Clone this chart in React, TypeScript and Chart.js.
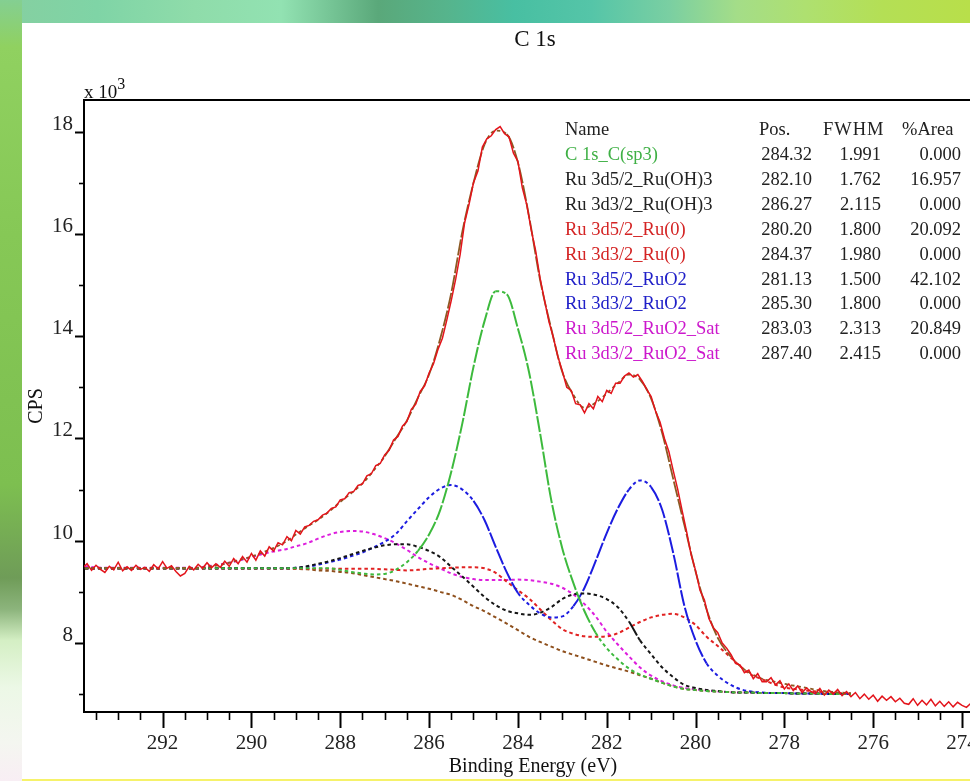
import React, { useEffect, useRef } from 'react';
import { Chart, registerables } from 'chart.js';

Chart.register(...registerables);

const SERIF = '"Liberation Serif", "Times New Roman", serif';

// ---------- axis ticks / ranges ----------
const X_TICKS = [292, 290, 288, 286, 284, 282, 280, 278, 276, 274];
const Y_TICKS = [8, 10, 12, 14, 16, 18];
const X_MIN = 273.55;
const X_MAX = 293.77;
const Y_MIN = 6.65;
const Y_MAX = 18.62;

// ---------- raw spectrum (binding energy, CPS x 10^3) ----------
const RAW_BE = [
  293.8, 293.7, 293.6, 293.5, 293.4, 293.3, 293.2, 293.1, 293.0, 292.9,
  292.8, 292.7, 292.6, 292.5, 292.4, 292.3, 292.2, 292.1, 292.0, 291.9,
  291.8, 291.7, 291.6, 291.5, 291.4, 291.3, 291.2, 291.1, 291.0, 290.9,
  290.8, 290.7, 290.6, 290.5, 290.4, 290.3, 290.2, 290.1, 290.0, 289.9,
  289.8, 289.7, 289.6, 289.5, 289.4, 289.3, 289.2, 289.1, 289.0, 288.9,
  288.8, 288.7, 288.6, 288.5, 288.4, 288.3, 288.2, 288.1, 288.0, 287.9,
  287.8, 287.7, 287.6, 287.5, 287.4, 287.3, 287.2, 287.1, 287.0, 286.9,
  286.8, 286.7, 286.6, 286.5, 286.4, 286.3, 286.2, 286.1, 286.0, 285.9,
  285.8, 285.7, 285.6, 285.5, 285.4, 285.3, 285.2, 285.1, 285.0, 284.9,
  284.8, 284.7, 284.6, 284.5, 284.4, 284.3, 284.2, 284.1, 284.0, 283.9,
  283.8, 283.7, 283.6, 283.5, 283.4, 283.3, 283.2, 283.1, 283.0, 282.9,
  282.8, 282.7, 282.6, 282.5, 282.4, 282.3, 282.2, 282.1, 282.0, 281.9,
  281.8, 281.7, 281.6, 281.5, 281.4, 281.3, 281.2, 281.1, 281.0, 280.9,
  280.8, 280.7, 280.6, 280.5, 280.4, 280.3, 280.2, 280.1, 280.0, 279.9,
  279.8, 279.7, 279.6, 279.5, 279.4, 279.3, 279.2, 279.1, 279.0, 278.9,
  278.8, 278.7, 278.6, 278.5, 278.4, 278.3, 278.2, 278.1, 278.0, 277.9,
  277.8, 277.7, 277.6, 277.5, 277.4, 277.3, 277.2, 277.1, 277.0, 276.9,
  276.8, 276.7, 276.6, 276.5, 276.4, 276.3, 276.2, 276.1, 276.0, 275.9,
  275.8, 275.7, 275.6, 275.5, 275.4, 275.3, 275.2, 275.1, 275.0, 274.9,
  274.8, 274.7, 274.6, 274.5, 274.4, 274.3, 274.2, 274.1, 274.0, 273.9,
  273.8,
];
const RAW_CPS = [
  9.47, 9.55, 9.42, 9.52, 9.44, 9.38, 9.50, 9.43, 9.58, 9.41,
  9.49, 9.42, 9.52, 9.44, 9.48, 9.40, 9.53, 9.45, 9.59, 9.46,
  9.51, 9.40, 9.31, 9.36, 9.50, 9.43, 9.54, 9.46, 9.57, 9.47,
  9.55, 9.48, 9.60, 9.50, 9.65, 9.55, 9.69, 9.58, 9.75, 9.62,
  9.80, 9.70, 9.88, 9.80, 9.96, 9.92, 10.08, 10.00, 10.20, 10.13,
  10.27, 10.30, 10.38, 10.41, 10.50, 10.54, 10.63, 10.66, 10.80, 10.82,
  10.94, 10.96, 11.08, 11.11, 11.27, 11.31, 11.47, 11.51, 11.68, 11.77,
  11.97, 12.04, 12.24, 12.33, 12.57, 12.67, 12.92, 13.03, 13.28, 13.46,
  13.74, 13.96, 14.32, 14.70, 15.12, 15.60, 16.22, 16.58, 17.00, 17.23,
  17.70, 17.86, 17.92, 18.04, 18.10, 17.96, 17.90, 17.58, 17.42, 16.90,
  16.57, 16.08, 15.67, 15.13, 14.70, 14.28, 13.97, 13.60, 13.32, 13.00,
  12.94, 12.68, 12.66, 12.50, 12.68, 12.58, 12.82, 12.72, 12.94, 12.88,
  13.08, 13.08, 13.22, 13.28, 13.20, 13.25, 13.12, 12.96, 12.82, 12.53,
  12.32, 12.00, 11.74, 11.36, 11.00, 10.58, 10.17, 9.73, 9.42, 9.03,
  8.84, 8.48, 8.30, 8.20, 8.00, 7.90, 7.77, 7.60, 7.57, 7.42,
  7.47, 7.30, 7.40, 7.24, 7.24, 7.32, 7.18, 7.26, 7.10, 7.20,
  7.07, 7.16, 7.03, 7.12, 7.05, 7.01, 7.11, 6.98, 7.08, 7.00,
  7.09, 6.97, 7.05, 6.95, 7.03, 6.91, 7.00, 6.90, 6.98, 6.86,
  6.96, 6.88, 6.95, 6.85, 6.92, 6.82, 6.80, 6.91, 6.78, 6.88,
  6.79, 6.90, 6.77, 6.86, 6.76, 6.85, 6.75, 6.84, 6.78, 6.74,
  6.82,
];

// ---------- fitted components (binding energy grid, CPS x 10^3) ----------
const COMP_BE = [
  293.75, 293.5, 293.25, 293.0, 292.75, 292.5, 292.25, 292.0, 291.75, 291.5,
  291.25, 291.0, 290.75, 290.5, 290.25, 290.0, 289.75, 289.5, 289.25, 289.0,
  288.75, 288.5, 288.25, 288.0, 287.75, 287.5, 287.25, 287.0, 286.75, 286.5,
  286.25, 286.0, 285.75, 285.5, 285.25, 285.0, 284.75, 284.5, 284.25, 284.0,
  283.75, 283.5, 283.25, 283.0, 282.75, 282.5, 282.25, 282.0, 281.75, 281.5,
  281.25, 281.0, 280.75, 280.5, 280.25, 280.0, 279.75, 279.5, 279.25, 279.0,
  278.75, 278.5, 278.25, 278.0, 277.75, 277.5, 277.25, 277.0, 276.75, 276.5,
];
const ENVELOPE = [
  9.47, 9.47, 9.47, 9.47, 9.47, 9.47, 9.47, 9.47, 9.47, 9.47,
  9.47, 9.49, 9.52, 9.57, 9.63, 9.69, 9.77, 9.86, 9.97, 10.12,
  10.27, 10.41, 10.57, 10.76, 10.93, 11.12, 11.37, 11.65, 12.00, 12.35,
  12.80, 13.25, 13.95, 14.85, 16.05, 17.00, 17.75, 18.02, 17.95, 17.40,
  16.35, 15.10, 14.15, 13.30, 12.85, 12.60, 12.70, 12.88, 13.08, 13.25,
  13.15, 12.78, 12.10, 11.20, 10.30, 9.40, 8.65, 8.10, 7.78, 7.55,
  7.40, 7.30, 7.25, 7.20, 7.16, 7.12, 7.08, 7.05, 7.03, 7.02,
];
const BACKGROUND = [
  9.46, 9.46, 9.46, 9.46, 9.46, 9.46, 9.46, 9.46, 9.46, 9.46,
  9.46, 9.46, 9.46, 9.46, 9.46, 9.46, 9.46, 9.46, 9.46, 9.45,
  9.44, 9.42, 9.41, 9.39, 9.37, 9.33, 9.29, 9.25, 9.21, 9.16,
  9.11, 9.06, 9.00, 8.94, 8.84, 8.72, 8.62, 8.50, 8.38, 8.25,
  8.12, 8.02, 7.93, 7.84, 7.77, 7.70, 7.63, 7.56, 7.50, 7.44,
  7.37, 7.30, 7.22, 7.15, 7.10, 7.08, 7.06, 7.05, 7.04, 7.03,
  7.03, 7.02, 7.02, 7.02, 7.01, 7.01, 7.01, 7.00, 7.00, 7.00,
];
const C_SP3 = [
  9.46, 9.46, 9.46, 9.46, 9.46, 9.46, 9.46, 9.46, 9.46, 9.46,
  9.46, 9.46, 9.46, 9.46, 9.46, 9.46, 9.46, 9.46, 9.46, 9.46,
  9.46, 9.46, 9.46, 9.43, 9.39, 9.36, 9.34, 9.35, 9.43, 9.58,
  9.80, 10.12, 10.60, 11.35, 12.30, 13.40, 14.30, 14.88, 14.82, 14.15,
  13.30, 12.10, 10.80, 9.85, 9.17, 8.62, 8.20, 7.90, 7.68, 7.50,
  7.38, 7.30, 7.22, 7.15, 7.10, 7.08, 7.06, 7.05, 7.04, 7.03,
  7.03, 7.02, 7.02, 7.02, 7.01, 7.01, 7.01, 7.00, 7.00, 7.00,
];
const RU_OH3 = [
  9.46, 9.46, 9.46, 9.46, 9.46, 9.46, 9.46, 9.46, 9.46, 9.46,
  9.46, 9.46, 9.46, 9.46, 9.46, 9.46, 9.46, 9.46, 9.46, 9.47,
  9.50, 9.55, 9.60, 9.66, 9.73, 9.80, 9.86, 9.91, 9.93, 9.93,
  9.88, 9.80, 9.68, 9.49, 9.30, 9.10, 8.90, 8.74, 8.63, 8.58,
  8.55, 8.59, 8.70, 8.86, 8.95, 8.97, 8.94, 8.86, 8.70, 8.42,
  8.05, 7.78, 7.52, 7.33, 7.18, 7.12, 7.08, 7.06, 7.04, 7.03,
  7.03, 7.02, 7.02, 7.02, 7.01, 7.01, 7.01, 7.00, 7.00, 7.00,
];
const RU_METAL = [
  9.45, 9.45, 9.45, 9.45, 9.45, 9.45, 9.45, 9.45, 9.45, 9.45,
  9.45, 9.45, 9.45, 9.45, 9.45, 9.45, 9.45, 9.45, 9.45, 9.45,
  9.45, 9.45, 9.45, 9.45, 9.45, 9.45, 9.45, 9.44, 9.43, 9.42,
  9.43, 9.45, 9.46, 9.47, 9.48, 9.48, 9.46, 9.37, 9.20, 9.03,
  8.87, 8.66, 8.45, 8.27, 8.18, 8.13, 8.12, 8.13, 8.19, 8.30,
  8.41, 8.50, 8.55, 8.57, 8.50, 8.35, 8.12, 7.94, 7.75, 7.55,
  7.38, 7.29, 7.20, 7.13, 7.10, 7.07, 7.05, 7.03, 7.02, 7.01,
];
const RUO2 = [
  9.46, 9.46, 9.46, 9.46, 9.46, 9.46, 9.46, 9.46, 9.46, 9.46,
  9.46, 9.46, 9.46, 9.46, 9.46, 9.46, 9.46, 9.46, 9.46, 9.47,
  9.49, 9.53, 9.58, 9.63, 9.70, 9.77, 9.87, 9.98, 10.13, 10.38,
  10.62, 10.85, 11.02, 11.09, 11.00, 10.78, 10.40, 9.88, 9.38, 8.98,
  8.75, 8.58, 8.50, 8.52, 8.72, 9.08, 9.60, 10.15, 10.63, 11.00,
  11.18, 11.05, 10.60, 9.75, 8.72, 8.05, 7.60, 7.36, 7.20, 7.10,
  7.05, 7.03, 7.02, 7.02, 7.01, 7.01, 7.01, 7.00, 7.00, 7.00,
];
const RUO2_SAT = [
  9.50, 9.48, 9.47, 9.47, 9.47, 9.47, 9.47, 9.47, 9.47, 9.47,
  9.47, 9.50, 9.53, 9.57, 9.62, 9.68, 9.74, 9.79, 9.83, 9.89,
  9.95, 10.04, 10.12, 10.17, 10.19, 10.18, 10.13, 10.05, 9.95, 9.82,
  9.68, 9.56, 9.46, 9.36, 9.29, 9.25, 9.23, 9.23, 9.23, 9.24,
  9.23, 9.20, 9.16, 9.08, 8.95, 8.76, 8.52, 8.22, 7.97, 7.74,
  7.52, 7.36, 7.25, 7.17, 7.12, 7.09, 7.07, 7.05, 7.04, 7.03,
  7.03, 7.02, 7.02, 7.02, 7.01, 7.01, 7.01, 7.00, 7.00, 7.00,
];

// ---------- peak table ----------
const TABLE_NAMES = [
  'C 1s_C(sp3)', 'Ru 3d5/2_Ru(OH)3', 'Ru 3d3/2_Ru(OH)3', 'Ru 3d5/2_Ru(0)', 'Ru 3d3/2_Ru(0)',
  'Ru 3d5/2_RuO2', 'Ru 3d3/2_RuO2', 'Ru 3d5/2_RuO2_Sat', 'Ru 3d3/2_RuO2_Sat',
];
const TABLE_POS = ['284.32', '282.10', '286.27', '280.20', '284.37', '281.13', '285.30', '283.03', '287.40'];
const TABLE_FWHM = ['1.991', '1.762', '2.115', '1.800', '1.980', '1.500', '1.800', '2.313', '2.415'];
const TABLE_AREA = ['0.000', '16.957', '0.000', '20.092', '0.000', '42.102', '0.000', '20.849', '0.000'];

const C_GREEN = '#3dba3d';
const C_BLACK = '#151515';
const C_RED = '#e12222';
const C_BLUE = '#1c1ce0';
const C_MAGENTA = '#dd1edd';
const C_BROWN = '#8e4f1c';
const TABLE_COLORS = ['#3fb045', '#222', '#222', '#d42424', '#d42424', '#2020c8', '#2020c8', '#cc18cc', '#cc18cc'];

const pts = (xs: number[], ys: number[]) => xs.map((x, i) => ({ x, y: ys[i] }));

function dashFor(ctx: any) {
  const dx = Math.abs(ctx.p1.x - ctx.p0.x);
  const dy = Math.abs(ctx.p1.y - ctx.p0.y);
  return dy > 1.4 * dx ? [16, 2] : [3.5, 3];
}

function comp(label: string, values: number[], color: string) {
  return {
    label,
    data: pts(COMP_BE, values),
    borderColor: color,
    borderWidth: 2,
    pointRadius: 0,
    cubicInterpolationMode: 'monotone' as const,
    fill: false,
    segment: { borderDash: dashFor },
  };
}

const ticksPlugin = {
  id: 'xpsTicks',
  afterDraw(chart: any) {
    const { ctx, chartArea } = chart;
    const xs = chart.scales.x;
    const ys = chart.scales.y;
    ctx.save();
    ctx.strokeStyle = '#000';
    for (let v = Math.ceil(xs.min * 2) / 2; v <= xs.max; v += 0.5) {
      const px = Math.round(xs.getPixelForValue(v)) + 0.5;
      const major = X_TICKS.includes(v);
      ctx.lineWidth = major ? 2 : 1.6;
      ctx.beginPath();
      ctx.moveTo(px, chartArea.bottom);
      ctx.lineTo(px, chartArea.bottom + (major ? 16 : 8));
      ctx.stroke();
    }
    for (let v = Math.ceil(ys.min); v <= ys.max; v += 1) {
      const py = Math.round(ys.getPixelForValue(v)) + 0.5;
      const major = Y_TICKS.includes(v);
      ctx.lineWidth = major ? 2 : 1.6;
      ctx.beginPath();
      ctx.moveTo(chartArea.left, py);
      ctx.lineTo(chartArea.left - (major ? 9 : 5), py);
      ctx.stroke();
    }
    ctx.lineWidth = 2;
    ctx.beginPath();
    ctx.moveTo(chartArea.left - 1, chartArea.top);
    ctx.lineTo(chartArea.right, chartArea.top);
    ctx.stroke();
    ctx.restore();
  },
};

export default function App() {
  const ref = useRef<HTMLCanvasElement>(null);

  useEffect(() => {
    if (!ref.current) return;
    const chart = new Chart(ref.current, {
      type: 'line',
      data: {
        datasets: [
          { label: 'Data', data: pts(RAW_BE, RAW_CPS), borderColor: '#e3141b', borderWidth: 1.5, pointRadius: 0, tension: 0, fill: false },
          {
            label: 'Envelope', data: pts(COMP_BE, ENVELOPE), borderColor: '#8c5a24', borderWidth: 1.8, pointRadius: 0,
            cubicInterpolationMode: 'monotone', fill: false, segment: { borderDash: dashFor },
          },
          comp('C 1s_C(sp3)', C_SP3, C_GREEN),
          comp('Ru(OH)3', RU_OH3, C_BLACK),
          comp('RuO2', RUO2, C_BLUE),
          comp('Ru(0)', RU_METAL, C_RED),
          comp('RuO2_Sat', RUO2_SAT, C_MAGENTA),
          comp('Background', BACKGROUND, C_BROWN),
        ] as any,
      },
      options: {
        animation: false,
        responsive: false,
        devicePixelRatio: 1,
        events: [],
        plugins: {
          legend: { display: false },
          tooltip: { enabled: false },
          title: {
            display: true,
            text: 'C 1s',
            color: '#111',
            font: { family: SERIF, size: 23, weight: 'normal' },
            padding: { top: 3, bottom: 46.4 },
          },
        },
        scales: {
          x: {
            type: 'linear',
            reverse: true,
            min: X_MIN,
            max: X_MAX,
            afterBuildTicks: (s: any) => { s.ticks = X_TICKS.map((v) => ({ value: v })); },
            afterFit: (s: any) => { s.height = 67; },
            grid: { display: true, drawOnChartArea: false, drawTicks: false },
            border: { display: true, color: '#000', width: 2 },
            ticks: { color: '#222', font: { family: SERIF, size: 21 }, padding: 19, maxRotation: 0, autoSkip: false },
            title: {
              display: true, text: 'Binding Energy (eV)', color: '#111',
              font: { family: SERIF, size: 20 }, padding: { top: 0, bottom: 0 },
            },
          },
          y: {
            type: 'linear',
            min: Y_MIN,
            max: Y_MAX,
            afterBuildTicks: (s: any) => { s.ticks = Y_TICKS.map((v) => ({ value: v })); },
            afterFit: (s: any) => { s.width = 62; },
            grid: { display: true, drawOnChartArea: false, drawTicks: false },
            border: { display: true, color: '#000', width: 2 },
            ticks: { color: '#222', font: { family: SERIF, size: 21 }, padding: 11, labelOffset: -7.5 },
            title: {
              display: true, text: 'CPS', color: '#111',
              font: { family: SERIF, size: 20 }, padding: { top: 3, bottom: 0 },
            },
          },
          yRight: {
            type: 'linear',
            position: 'right',
            display: true,
            grid: { display: false },
            border: { display: false },
            ticks: { display: false },
            afterFit: (s: any) => { s.width = 66; },
          },
        },
      } as any,
      plugins: [ticksPlugin],
    });
    return () => chart.destroy();
  }, []);

  const cell = (text: string, top: number, color: string, left?: number, right?: number, extra?: any) => (
    <div
      key={`${text}-${top}-${left}-${right}`}
      style={{
        position: 'absolute',
        top: top - 10,
        ...(left !== undefined ? { left } : { left: 0, width: right, textAlign: 'right' as const }),
        fontFamily: SERIF,
        fontSize: 18.5,
        lineHeight: '20px',
        color,
        whiteSpace: 'nowrap',
        ...extra,
      }}
    >
      {text}
    </div>
  );

  return (
    <div style={{ position: 'fixed', left: 0, top: 0, width: 970, height: 781, overflow: 'hidden', background: '#fff' }}>
      <div
        style={{
          position: 'absolute', left: 0, top: 0, width: 970, height: 23,
          background:
            'linear-gradient(90deg, #86cfa0 0%, #7fd4a6 10%, #8fdcaa 20%, #92e2b2 29%, #5aa87a 39%, #56b48c 46%, #48bfa2 53%, #55c5a8 61%, #7acfa2 69%, #a4dd88 76%, #aee070 83%, #b4df55 91%, #b8df4a 100%)',
        }}
      />
      <div
        style={{
          position: 'absolute', left: 0, top: 0, width: 22, height: 781,
          background:
            'linear-gradient(180deg, #84cf92 0%, #90d160 6%, #86c856 30%, #7dbf50 62%, #6f9c58 74%, #8cb47c 78%, #d4efc4 82%, #ecf8e6 88%, #f4f6f0 95%, #f8eef4 100%)',
        }}
      />
      <div style={{ position: 'absolute', left: 22, top: 779, width: 948, height: 2, background: '#f6f26a' }} />
      <canvas ref={ref} width={1026} height={756} style={{ position: 'absolute', left: 22, top: 23, width: 1026, height: 756 }} />
      <div
        style={{
          position: 'absolute', left: 84, top: 82, fontFamily: SERIF, fontSize: 19, lineHeight: '19px', color: '#111', whiteSpace: 'nowrap',
        }}
      >
        x 10<span style={{ position: 'relative', top: -9, fontSize: 16 }}>3</span>
      </div>
      {cell('Name', 129, '#222', 565)}
      {cell('Pos.', 129, '#222', 759)}
      {cell('FWHM', 129, '#222', 823, undefined, { letterSpacing: 1 })}
      {cell('%Area', 129, '#222', 902)}
      {TABLE_NAMES.map((n, i) => cell(n, 154 + 24.9 * i, TABLE_COLORS[i], 565))}
      {TABLE_POS.map((n, i) => cell(n, 154 + 24.9 * i, '#222', undefined, 812))}
      {TABLE_FWHM.map((n, i) => cell(n, 154 + 24.9 * i, '#222', undefined, 881))}
      {TABLE_AREA.map((n, i) => cell(n, 154 + 24.9 * i, '#222', undefined, 961))}
    </div>
  );
}
